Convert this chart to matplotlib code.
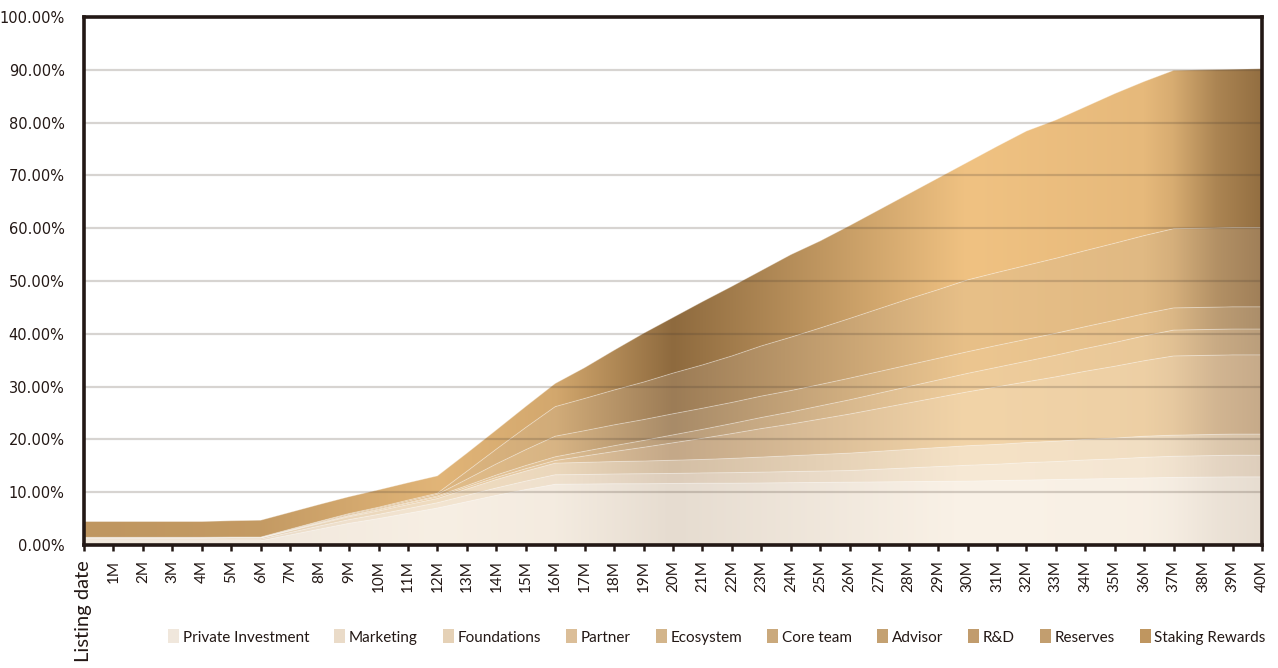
import numpy as np
import matplotlib.pyplot as plt
from matplotlib.colors import to_rgb
from matplotlib.patches import Patch

# unlocked share of total supply (%), per allocation, month 0 (listing) .. 40
months = ['Listing date'] + [f'{i}M' for i in range(1, 41)]

series_names = ['Private Investment', 'Marketing', 'Foundations', 'Partner', 'Ecosystem',
                'Core team', 'Advisor', 'R&D', 'Reserves', 'Staking Rewards']

private_investment = [0.8, 0.8, 0.8, 0.8, 0.8, 0.8, 0.8,
                      1.9, 3.0, 4.1, 5.0, 6.0, 7.0,
                      8.2, 9.4, 10.5, 11.5,
                      11.55, 11.6, 11.6, 11.65, 11.7, 11.7, 11.75, 11.8, 11.85, 11.9,
                      11.95, 12.0, 12.05, 12.1, 12.2, 12.3, 12.4, 12.5, 12.6, 12.7, 12.8,
                      12.85, 12.9, 12.9]
marketing = [0.3, 0.3, 0.3, 0.3, 0.3, 0.3, 0.3,
             0.45, 0.6, 0.7, 0.8, 0.9, 1.0,
             1.2, 1.4, 1.6, 1.8,
             1.8, 1.85, 1.9, 1.9, 1.95, 2.0, 2.05, 2.1, 2.15, 2.2,
             2.4, 2.6, 2.8, 3.0, 3.1, 3.3, 3.4, 3.6, 3.7, 3.9, 4.0,
             4.05, 4.1, 4.1]
foundations = [0.2, 0.2, 0.2, 0.2, 0.2, 0.25, 0.25,
               0.35, 0.45, 0.55, 0.65, 0.75, 0.8,
               1.2, 1.6, 1.9, 2.2,
               2.3, 2.35, 2.4, 2.5, 2.55, 2.7, 2.85, 3.0, 3.15, 3.3,
               3.4, 3.5, 3.6, 3.7, 3.75, 3.8, 3.85, 3.9, 3.95, 4.0, 4.0,
               4.0, 4.0, 4.0]
partner = [0.0, 0.0, 0.0, 0.0, 0.0, 0.0, 0.0,
           0.05, 0.1, 0.15, 0.2, 0.25, 0.3,
           0.35, 0.4, 0.45, 0.5,
           1.2, 1.9, 2.6, 3.3, 4.0, 4.7, 5.4, 6.0, 6.7, 7.4,
           8.1, 8.8, 9.5, 10.2, 10.9, 11.5, 12.2, 12.9, 13.6, 14.3, 15.0,
           15.0, 15.0, 15.0]
ecosystem = [0.0, 0.0, 0.0, 0.0, 0.0, 0.0, 0.0,
             0.05, 0.1, 0.1, 0.15, 0.15, 0.2,
             0.3, 0.45, 0.6, 0.7,
             0.9, 1.1, 1.3, 1.5, 1.7, 1.9, 2.1, 2.3, 2.5, 2.7,
             2.9, 3.1, 3.3, 3.5, 3.7, 3.9, 4.1, 4.3, 4.5, 4.7, 4.9,
             4.9, 4.9, 4.9]
core_team = [0.05, 0.05, 0.05, 0.05, 0.05, 0.05, 0.05,
             0.1, 0.15, 0.2, 0.2, 0.25, 0.3,
             1.2, 2.1, 3.0, 3.9,
             3.9, 3.95, 3.95, 4.0, 4.0, 4.0, 4.05, 4.05, 4.05, 4.1,
             4.1, 4.1, 4.1, 4.1, 4.15, 4.15, 4.15, 4.15, 4.2, 4.2, 4.2,
             4.2, 4.2, 4.2]
advisor = [0.0] * 41
r_and_d = [0.0] * 41
reserves = [0.1, 0.1, 0.1, 0.1, 0.1, 0.1, 0.1,
            0.1, 0.1, 0.15, 0.15, 0.2, 0.2,
            1.5, 2.8, 4.2, 5.6,
            6.1, 6.6, 7.1, 7.7, 8.2, 8.8, 9.5, 10.1, 10.7, 11.3,
            11.9, 12.5, 13.0, 13.6, 13.8, 14.0, 14.2, 14.4, 14.6, 14.8, 15.0,
            15.0, 15.0, 15.0]
staking_rewards = [3.0, 3.0, 3.0, 3.0, 3.0, 3.1, 3.2,
                   3.2, 3.2, 3.2, 3.3, 3.3, 3.3,
                   3.45, 3.65, 4.0, 4.4,
                   5.85, 7.55, 9.25, 10.55, 12.0, 13.2, 14.3, 15.65, 16.5, 17.6,
                   18.75, 19.9, 21.15, 22.3, 23.9, 25.45, 26.2, 27.25, 28.35, 29.2, 30.0,
                   30.0, 30.0, 30.1]

layers = [private_investment, marketing, foundations, partner, ecosystem,
          core_team, advisor, r_and_d, reserves, staking_rewards]

# gradient end colours for each layer (light tone / dark tone)
light = ['#faf2e7', '#f7e9d5', '#f5e2c6', '#f2d4a8', '#efcd9c',
         '#ecc690', '#e9c088', '#e8bd84', '#e8c088', '#f0c282']
dark = ['#e6dcd0', '#ddcdbb', '#d4bfa5', '#c4a888', '#b89c7a',
        '#a88b68', '#a0825c', '#9a7b55', '#9c7c56', '#8e6a3e']
# how dark the gradient is along the x axis
shade_x = [0, 6, 12, 16, 20, 24, 28, 30, 36, 37, 38.5, 40]
shade_w = [0.5, 0.45, 0.15, 0.3, 1.0, 0.6, 0.2, 0.0, 0.1, 0.25, 0.7, 0.95]

ink = '#231815'

fig = plt.figure(figsize=(12.78, 6.68), dpi=100)
ax = fig.add_axes([84 / 1278, 1 - 545 / 668, (1262 - 84) / 1278, (545 - 17) / 668])

x = np.arange(len(months))
xs = np.linspace(0, 40, 600)
w = np.interp(xs, shade_x, shade_w)

base = np.zeros(len(x))
for vals, lc, dc in zip(layers, light, dark):
    top = base + np.array(vals)
    poly = ax.fill_between(x, base, top, facecolor='none', edgecolor='none')
    l = np.array(to_rgb(lc))
    d = np.array(to_rgb(dc))
    img = (1 - w)[:, None] * l + w[:, None] * d
    im = ax.imshow(img[None, :, :], extent=[0, 40, 0, 100], aspect='auto',
                   origin='lower', zorder=1, interpolation='bilinear')
    im.set_clip_path(poly.get_paths()[0], transform=ax.transData)
    if max(vals) > 0:
        ax.plot(x, top, color='white', lw=0.7, alpha=0.35, zorder=2)
    base = top

for gy in range(10, 100, 10):
    ax.axhline(gy, color='#4a3c30', alpha=0.22, lw=1.6, zorder=3)

ax.set_xlim(0, 40)
ax.set_ylim(0, 100)

ax.set_yticks(range(0, 101, 10))
ax.set_yticklabels([f'{v:.2f}%' for v in range(0, 101, 10)],
                   fontsize=10.5, color=ink, family='DejaVu Sans')
ax.tick_params(axis='y', length=0, pad=14)

ax.set_xticks(x)
ax.set_xticklabels(months, rotation=90, fontsize=11, color=ink, family='Lato')
ax.get_xticklabels()[0].set_fontsize(14.5)
ax.tick_params(axis='x', length=4, width=1.8, color=ink, direction='out', pad=7)

for s in ax.spines.values():
    s.set_color(ink)
    s.set_linewidth(2.6)
    s.set_zorder(5)

mid = [(np.array(to_rgb(lc)) + np.array(to_rgb(dc))) / 2 for lc, dc in zip(light, dark)]
handles = [Patch(facecolor=c, edgecolor='none') for c in mid]
fig.legend(handles, series_names, loc='center', ncol=10, frameon=False,
           bbox_to_anchor=(717 / 1278, 1 - 637 / 668),
           prop={'family': 'Lato', 'size': 11},
           handlelength=0.7, handleheight=1.0, handletextpad=0.25,
           columnspacing=1.65, labelcolor=ink)

fig.savefig('out.png', dpi=100)
